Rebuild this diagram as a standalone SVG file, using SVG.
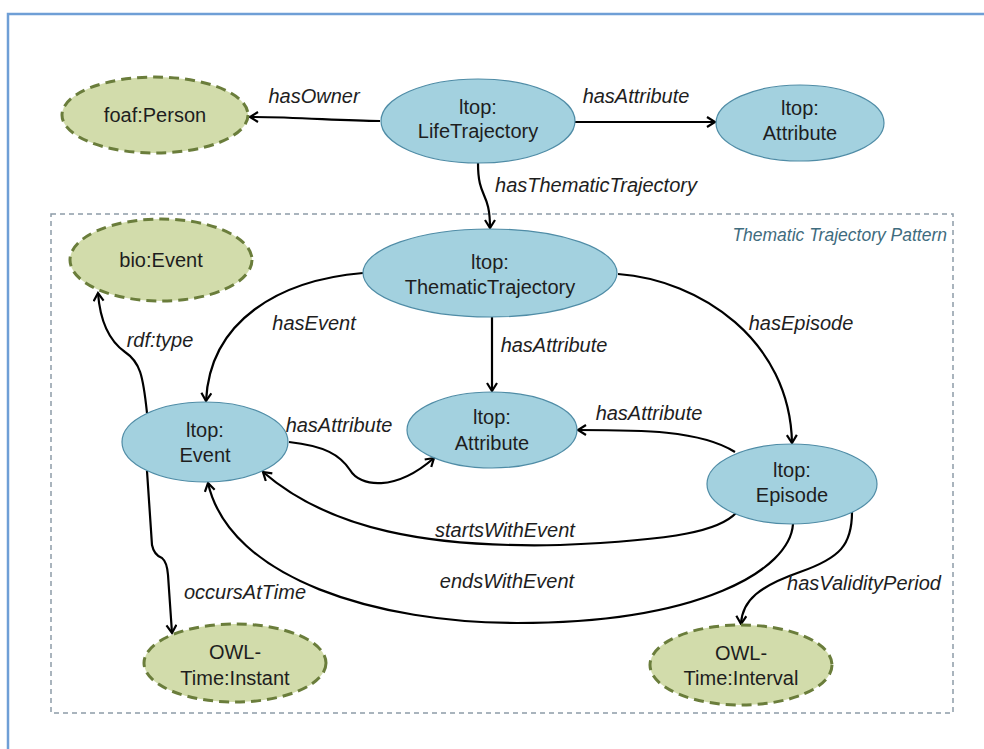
<svg xmlns="http://www.w3.org/2000/svg" width="984" height="749" viewBox="0 0 984 749">
<style>
.blue{fill:#a3d1df;stroke:#4f8ca6;stroke-width:1.2}
.green{fill:#d2dcab;stroke:#6a7d3b;stroke-width:3;stroke-dasharray:10 6}
.nt{font-family:"Liberation Sans",Arial,sans-serif;font-size:20px;fill:#1e1e1e;text-anchor:middle}
.lb{font-family:"Liberation Sans",Arial,sans-serif;font-size:20px;font-style:italic;fill:#1e1e1e;text-anchor:middle}
.edge{fill:none;stroke:#000;stroke-width:2.2;marker-end:url(#arr)}
</style>
<defs>
<marker id="arr" markerUnits="userSpaceOnUse" markerWidth="14" markerHeight="14" refX="9" refY="6" orient="auto">
<path d="M1,1 L9,6 L1,11" fill="none" stroke="#000" stroke-width="2.2"/>
</marker>
</defs>
<rect width="984" height="749" fill="#fff"/>
<path d="M8,749 L8,14 L984,14" fill="none" stroke="#6f9fd6" stroke-width="2.5"/>
<g id="pattern">
<rect x="51" y="214" width="902" height="499" fill="none" stroke="#8d9ca8" stroke-width="1.5" stroke-dasharray="5 4"/>
<text x="947" y="241" font-family="Liberation Sans,Arial,sans-serif" font-size="17.5" font-style="italic" fill="#3f6c7e" text-anchor="end">Thematic Trajectory Pattern</text>
</g>
<g id="connectors">
<path class="edge" d="M380,121 C340,121 300,117 250,117"/>
<path class="edge" d="M575,122 L715,122"/>
<path class="edge" d="M478,163 C478,200 490,190 490,228"/>
<path class="edge" d="M363,273 C280,280 210,320 206,401"/>
<path class="edge" d="M492,317 L492,391"/>
<path class="edge" d="M618,274 C700,280 790,340 792,443"/>
<path class="edge" d="M735,452 C700,430 640,430 578,430"/>
<path class="edge" d="M289,442 C325,446 340,455 350,470 C360,487 395,492 434,458"/>
<path class="edge" d="M147,413 C143,375 140,362 125,352 C108,340 100,320 98,293"/>
<path class="edge" d="M147,471 L152,545 Q154,555 162,558 Q167,562 168,575 L172,633"/>
<path class="edge" d="M736,513 C720,530 680,540 560,545 C430,548 330,530 263,472"/>
<path class="edge" d="M793,524 C790,570 700,623 517,623 C380,623 230,580 208,483"/>
<path class="edge" d="M852,512 C852,545 840,558 800,572 C760,586 742,600 741,624"/>
<text class="lb" x="314" y="103">hasOwner</text>
<text class="lb" x="636" y="103">hasAttribute</text>
<text class="lb" x="596" y="192">hasThematicTrajectory</text>
<text class="lb" x="314" y="330">hasEvent</text>
<text class="lb" x="160" y="347">rdf:type</text>
<text class="lb" x="554" y="352">hasAttribute</text>
<text class="lb" x="801" y="330">hasEpisode</text>
<text class="lb" x="339" y="432">hasAttribute</text>
<text class="lb" x="649" y="420">hasAttribute</text>
<text class="lb" x="505" y="537">startsWithEvent</text>
<text class="lb" x="507" y="588">endsWithEvent</text>
<text class="lb" x="245" y="599">occursAtTime</text>
<text class="lb" x="864" y="590">hasValidityPeriod</text>
</g>
<g id="foafPerson">
<ellipse class="green" cx="155" cy="115" rx="93" ry="38"/>
<text class="nt" x="155" y="122">foaf:Person</text>
</g>
<g id="lifeTrajectory">
<ellipse class="blue" cx="478" cy="121" rx="97" ry="42"/>
<text class="nt" x="478" y="114">ltop:</text>
<text class="nt" x="478" y="138">LifeTrajectory</text>
</g>
<g id="attributeTop">
<ellipse class="blue" cx="800" cy="123" rx="84" ry="38"/>
<text class="nt" x="800" y="115">ltop:</text>
<text class="nt" x="800" y="140">Attribute</text>
</g>
<g id="bioEvent">
<ellipse class="green" cx="161" cy="260" rx="91" ry="41"/>
<text class="nt" x="161" y="267">bio:Event</text>
</g>
<g id="thematicTrajectory">
<ellipse class="blue" cx="490" cy="273" rx="127" ry="44"/>
<text class="nt" x="490" y="269">ltop:</text>
<text class="nt" x="490" y="294">ThematicTrajectory</text>
</g>
<g id="event">
<ellipse class="blue" cx="205" cy="442" rx="83" ry="40"/>
<text class="nt" x="205" y="437">ltop:</text>
<text class="nt" x="205" y="462">Event</text>
</g>
<g id="attributeMid">
<ellipse class="blue" cx="492" cy="430" rx="85" ry="38"/>
<text class="nt" x="492" y="424">ltop:</text>
<text class="nt" x="492" y="450">Attribute</text>
</g>
<g id="episode">
<ellipse class="blue" cx="792" cy="484" rx="85" ry="40"/>
<text class="nt" x="792" y="477">ltop:</text>
<text class="nt" x="792" y="502">Episode</text>
</g>
<g id="timeInstant">
<ellipse class="green" cx="235" cy="663" rx="91" ry="39"/>
<text class="nt" x="235" y="659">OWL-</text>
<text class="nt" x="235" y="685">Time:Instant</text>
</g>
<g id="timeInterval">
<ellipse class="green" cx="741" cy="665" rx="91" ry="40"/>
<text class="nt" x="741" y="660">OWL-</text>
<text class="nt" x="741" y="685">Time:Interval</text>
</g>
</svg>
